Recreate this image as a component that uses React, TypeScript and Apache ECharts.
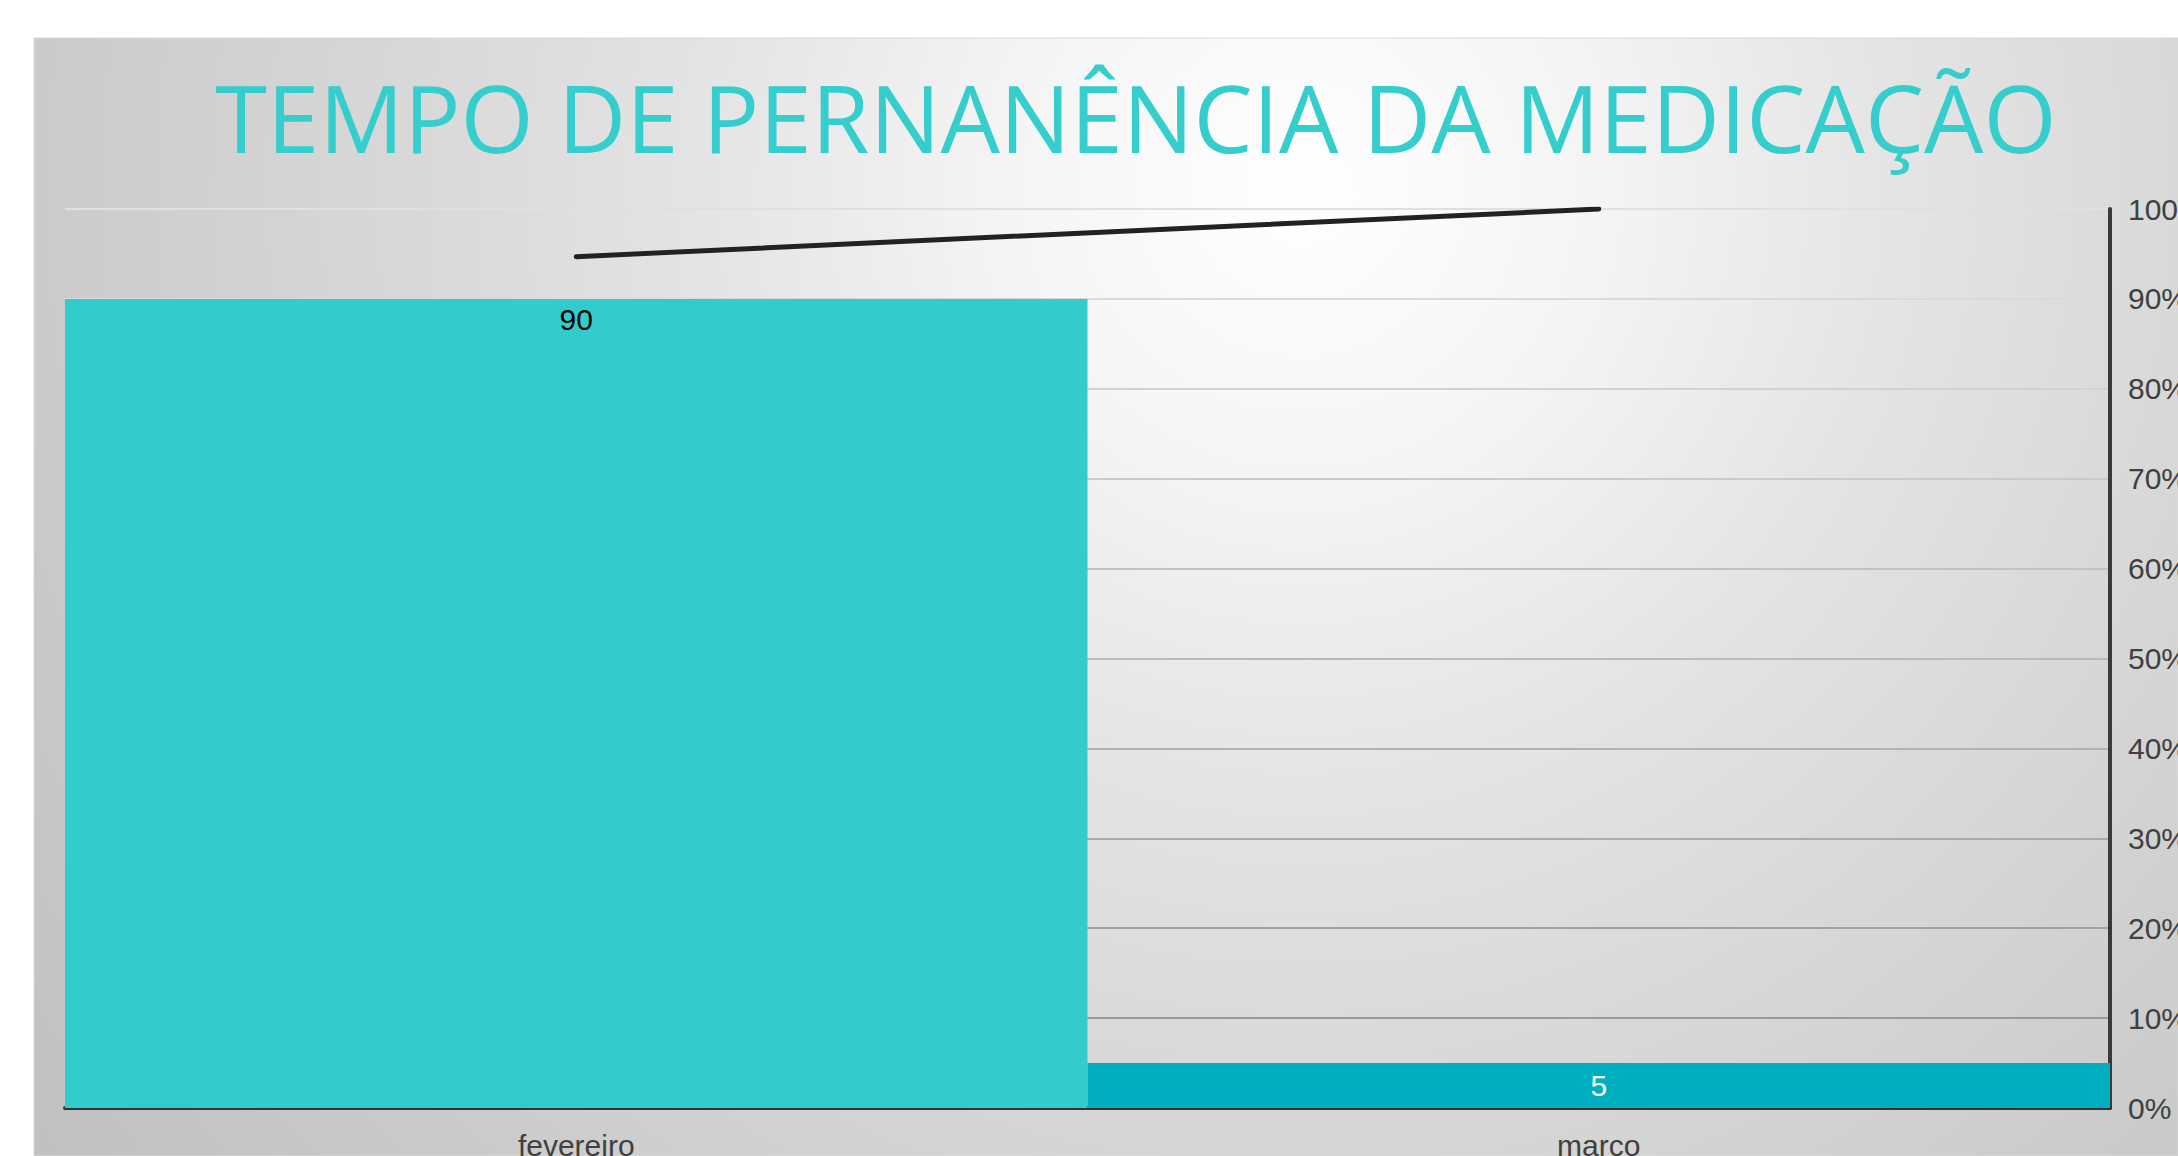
import React, { useEffect, useRef } from "react";
import * as echarts from "echarts";

const titleText = "TEMPO DE PERNANÊNCIA DA MEDICAÇÃO";
const categories = ["fevereiro", "marco"];
const barValues = [90, 5];
const barColors = ["#33CCCC", "#00AFBF"];
const barLabelColors = ["#000000", "#ffffff"];
const cumulativePercent = [94.7, 100];
const gridLineColors = ["#999999", "#9a9a9a", "#a2a2a2", "#aaaaaa", "#b2b2b2", "#bababa", "#c2c2c2", "#cacaca", "#d2d2d2", "#dadada", "#e0e0e0"];

export default function App() {
  const ref = useRef<HTMLDivElement>(null);
  useEffect(() => {
    document.body.style.margin = "0";
    const chart = echarts.init(ref.current!, null, { renderer: "svg" });
    chart.setOption({
      animation: false,
      backgroundColor: "#ffffff",
      graphic: [
        {
          type: "rect",
          z: -10,
          silent: true,
          shape: { x: 34, y: 38, width: 2144, height: 1118 },
          style: {
            fill: new echarts.graphic.RadialGradient(
              1300,
              190,
              1600,
              [
                { offset: 0, color: "#ffffff" },
                { offset: 0.19, color: "#f4f4f4" },
                { offset: 0.375, color: "#e4e4e4" },
                { offset: 0.56, color: "#d8d8d8" },
                { offset: 0.8, color: "#cacaca" },
                { offset: 1, color: "#c0c0c0" },
              ],
              true
            ),
            stroke: "#d8d8d8",
            lineWidth: 1,
          },
        },
        {
          type: "text",
          z: 10,
          x: 1136,
          y: 117,
          style: {
            text: titleText,
            fill: "#36CDCD",
            font: "normal 94px 'Open Sans'",
            textAlign: "center",
            textVerticalAlign: "middle",
          },
        },
      ],
      grid: { left: 65, right: 68, top: 209, bottom: 48, containLabel: false, outerBoundsMode: "none" },
      xAxis: {
        type: "category",
        data: categories,
        axisTick: { show: false },
        axisLine: { show: true, lineStyle: { color: "#333333", width: 4 } },
        axisLabel: {
          color: "#404040",
          fontSize: 30,
          fontFamily: "'Liberation Sans', Arial",
          margin: 22,
        },
      },
      yAxis: {
        type: "value",
        position: "right",
        min: 0,
        max: 100,
        interval: 10,
        axisLine: { show: true, lineStyle: { color: "#3a3a3a", width: 4 } },
        axisTick: { show: false },
        axisLabel: {
          formatter: "{value}%",
          color: "#404040",
          fontSize: 30,
          fontFamily: "'Liberation Sans', Arial",
          margin: 18,
        },
        splitLine: { show: true, lineStyle: { color: gridLineColors, width: 2 } },
      },
      series: [
        {
          type: "bar",
          barCategoryGap: "0%",
          barGap: "0%",
          z: 2,
          data: barValues.map((v, i) => ({
            value: v,
            itemStyle: { color: barColors[i] },
            label: {
              show: true,
              position: i === 0 ? "insideTop" : "inside",
              distance: 6,
              color: barLabelColors[i],
              fontSize: 30,
              fontFamily: "'Liberation Sans', Arial",
            },
          })),
        },
        {
          type: "line",
          z: 5,
          data: cumulativePercent,
          symbol: "none",
          lineStyle: { color: "#222222", width: 5, cap: "round" },
        },
      ],
    });
    return () => chart.dispose();
  }, []);
  return <div ref={ref} style={{ width: 2178, height: 1156 }} />;
}
